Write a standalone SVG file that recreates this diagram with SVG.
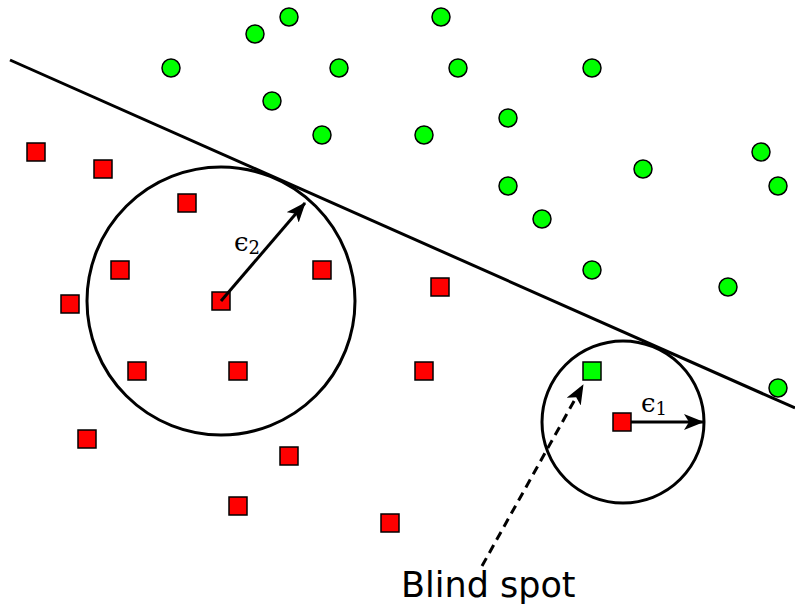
<svg xmlns="http://www.w3.org/2000/svg" width="795" height="606" viewBox="0 0 795 606">
<style>
.g{fill:#00ff00;stroke:#000;stroke-width:1.5}
.r{fill:#ff0000;stroke:#000;stroke-width:1.5}
.ln{fill:none;stroke:#000;stroke-width:3}
.eps{font-family:"DejaVu Serif","Liberation Serif",serif;font-size:26px;fill:#000}
.sub{font-family:"DejaVu Serif","Liberation Serif",serif;font-size:18px}
.lbl{font-family:"DejaVu Sans",sans-serif;font-size:35px;fill:#000}
</style>
<defs>
<marker id="ah" viewBox="0 0 20 16" refX="19" refY="8" markerWidth="20" markerHeight="16" markerUnits="userSpaceOnUse" orient="auto">
<path d="M0,0 L20,8 L0,16 L5,8 Z" fill="#000"/>
</marker>
</defs>
<g id="boundary"><line class="ln" x1="10" y1="60" x2="795" y2="408"/></g>
<g id="circles">
<circle class="ln" cx="221" cy="301" r="134"/>
<circle class="ln" cx="623" cy="422" r="81"/>
</g>
<g id="green-points">
<circle class="g" cx="171" cy="68" r="9"/>
<circle class="g" cx="255" cy="34" r="9"/>
<circle class="g" cx="289" cy="17" r="9"/>
<circle class="g" cx="339" cy="68" r="9"/>
<circle class="g" cx="272" cy="101" r="9"/>
<circle class="g" cx="322" cy="135" r="9"/>
<circle class="g" cx="441" cy="17" r="9"/>
<circle class="g" cx="458" cy="68" r="9"/>
<circle class="g" cx="592" cy="68" r="9"/>
<circle class="g" cx="508" cy="118" r="9"/>
<circle class="g" cx="424" cy="135" r="9"/>
<circle class="g" cx="508" cy="186" r="9"/>
<circle class="g" cx="643" cy="169" r="9"/>
<circle class="g" cx="761" cy="152" r="9"/>
<circle class="g" cx="778" cy="186" r="9"/>
<circle class="g" cx="542" cy="219" r="9"/>
<circle class="g" cx="592" cy="270" r="9"/>
<circle class="g" cx="728" cy="287" r="9"/>
<circle class="g" cx="778" cy="388" r="9"/>
</g>
<g id="red-points">
<rect class="r" x="27" y="143" width="18" height="18"/>
<rect class="r" x="94" y="160" width="18" height="18"/>
<rect class="r" x="178" y="194" width="18" height="18"/>
<rect class="r" x="111" y="261" width="18" height="18"/>
<rect class="r" x="61" y="295" width="18" height="18"/>
<rect class="r" x="212" y="292" width="18" height="18"/>
<rect class="r" x="313" y="261" width="18" height="18"/>
<rect class="r" x="431" y="278" width="18" height="18"/>
<rect class="r" x="128" y="362" width="18" height="18"/>
<rect class="r" x="229" y="362" width="18" height="18"/>
<rect class="r" x="415" y="362" width="18" height="18"/>
<rect class="r" x="78" y="430" width="18" height="18"/>
<rect class="r" x="280" y="447" width="18" height="18"/>
<rect class="r" x="229" y="497" width="18" height="18"/>
<rect class="r" x="381" y="514" width="18" height="18"/>
<rect class="r" x="613" y="413" width="18" height="18"/>
</g>
<g id="blind-point"><rect class="g" x="583" y="362" width="18" height="18"/></g>
<g id="connectors">
<line class="ln" x1="221" y1="301" x2="305" y2="203" marker-end="url(#ah)"/>
<line class="ln" x1="631" y1="422" x2="703" y2="422" marker-end="url(#ah)"/>
<line class="ln" x1="482" y1="566" x2="583" y2="385" stroke-dasharray="9,6" marker-end="url(#ah)"/>
</g>
<g id="labels">
<text class="eps" x="234" y="251">ϵ<tspan class="sub" dy="3">2</tspan></text>
<text class="eps" x="641" y="412">ϵ<tspan class="sub" dy="3">1</tspan></text>
<text class="lbl" x="401" y="597">Blind spot</text>
</g>
</svg>
